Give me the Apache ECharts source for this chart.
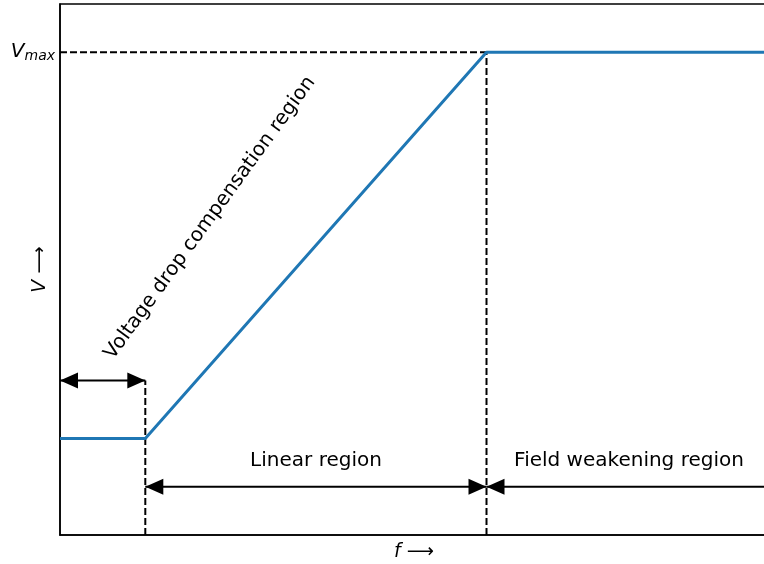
<!DOCTYPE html>
<html>
<head>
<meta charset="utf-8">
<script src="https://cdn.jsdelivr.net/npm/echarts@6/dist/echarts.min.js"></script>
<style>
  html, body { margin: 0; padding: 0; background: #fff; }
  #chart { width: 764px; height: 564px; }
</style>
</head>
<body>
<div id="chart"></div>
<script>
// V/f characteristic
let profileF = [0, 1, 5, 8.3];
let profileV = [0.2, 0.2, 1, 1];

// dashed guide lines: [f1, v1, f2, v2]
let guides = [
  [1, 0, 1, 0.32],
  [5, 0, 5, 1],
  [0, 1, 5, 1]
];

// arrows: [f1, v1, f2, v2, headAtStart, headAtEnd]
let arrows = [
  [0, 0.32, 1, 0.32, 1, 1],
  [1, 0.1, 5, 0.1, 1, 1],
  [5, 0.1, 8.3, 0.1, 1, 0]
];

let yTickValues = [1];

let chart = echarts.init(document.getElementById('chart'));

function pairs(xs, ys) {
  return xs.map(function(x, i) { return [x, ys[i]]; });
}

function head(tip, from, len, half) {
  let dx = tip[0] - from[0], dy = tip[1] - from[1];
  let d = Math.sqrt(dx * dx + dy * dy);
  let ux = dx / d, uy = dy / d;
  let bx = tip[0] - ux * len, by = tip[1] - uy * len;
  return [tip, [bx - uy * half, by + ux * half], [bx + uy * half, by - ux * half]];
}

let guideSeries = guides.map(function(g) {
  return {
    type: 'line',
    data: [[g[0], g[1]], [g[2], g[3]]],
    symbol: 'none',
    silent: true,
    lineStyle: { color: '#000', width: 2, type: [7, 3] },
    z: 3
  };
});

let option = {
  animation: false,
  backgroundColor: '#fff',
  grid: {
    left: 60, top: 4, bottom: 29, right: -4,
    outerBoundsMode: 'none',
    containLabel: false,
    show: true, borderColor: '#000', borderWidth: 1.5, backgroundColor: 'transparent'
  },
  xAxis: {
    type: 'value', min: 0, max: 8.3,
    axisLine: { show: true, onZero: false, lineStyle: { color: '#000', width: 1.5 } },
    axisTick: { show: false },
    axisLabel: { show: false },
    splitLine: { show: false },
    name: '{i|f} ⟶',
    nameLocation: 'middle',
    nameGap: 8,
    nameMoveOverlap: false,
    nameTextStyle: {
      fontFamily: 'DejaVu Sans', fontSize: 19, color: '#000',
      rich: { i: { fontFamily: 'DejaVu Sans', fontStyle: 'italic', fontSize: 19 } }
    }
  },
  yAxis: {
    type: 'value', min: 0, max: 1.1,
    axisLine: { show: true, onZero: false, lineStyle: { color: '#000', width: 1.5 } },
    axisTick: { show: false },
    splitLine: { show: false },
    axisLabel: {
      show: true,
      customValues: yTickValues,
      margin: 5,
      formatter: function() { return '{v|V}{s|max}'; },
      rich: {
        v: { fontFamily: 'DejaVu Sans', fontStyle: 'italic', fontSize: 20, color: '#000' },
        s: { fontFamily: 'DejaVu Sans', fontStyle: 'italic', fontSize: 14, color: '#000', padding: [9, 0, 0, 0] }
      }
    },
    name: '{i|V} ⟶',
    nameLocation: 'middle',
    nameRotate: 90,
    nameGap: 10,
    nameMoveOverlap: false,
    nameTextStyle: {
      fontFamily: 'DejaVu Sans', fontSize: 19, color: '#000',
      rich: { i: { fontFamily: 'DejaVu Sans', fontStyle: 'italic', fontSize: 19 } }
    }
  },
  series: guideSeries.concat([
    {
      type: 'line',
      data: pairs(profileF, profileV),
      symbol: 'none',
      silent: true,
      lineStyle: { color: '#1f77b4', width: 3 },
      z: 4
    },
    {
      type: 'custom',
      data: arrows,
      silent: true,
      z: 5,
      renderItem: function(params, api) {
        let p1 = api.coord([api.value(0), api.value(1)]);
        let p2 = api.coord([api.value(2), api.value(3)]);
        let children = [{
          type: 'line',
          shape: { x1: p1[0], y1: p1[1], x2: p2[0], y2: p2[1] },
          style: { stroke: '#000', lineWidth: 2 }
        }];
        if (api.value(4)) {
          children.push({ type: 'polygon', shape: { points: head(p1, p2, 18, 8) }, style: { fill: '#000' } });
        }
        if (api.value(5)) {
          children.push({ type: 'polygon', shape: { points: head(p2, p1, 18, 8) }, style: { fill: '#000' } });
        }
        return { type: 'group', children: children };
      }
    }
  ]),
  graphic: [
    {
      type: 'text', x: 210, y: 218, rotation: 54 * Math.PI / 180,
      style: { text: 'Voltage drop compensation region', fontFamily: 'DejaVu Sans', fontSize: 20, fill: '#000', align: 'center', verticalAlign: 'middle' },
      z: 10
    },
    {
      type: 'text', x: 316, y: 461,
      style: { text: 'Linear region', fontFamily: 'DejaVu Sans', fontSize: 20, fill: '#000', align: 'center', verticalAlign: 'middle' },
      z: 10
    },
    {
      type: 'text', x: 629, y: 461,
      style: { text: 'Field weakening region', fontFamily: 'DejaVu Sans', fontSize: 20, fill: '#000', align: 'center', verticalAlign: 'middle' },
      z: 10
    }
  ]
};

chart.setOption(option);
</script>
</body>
</html>
